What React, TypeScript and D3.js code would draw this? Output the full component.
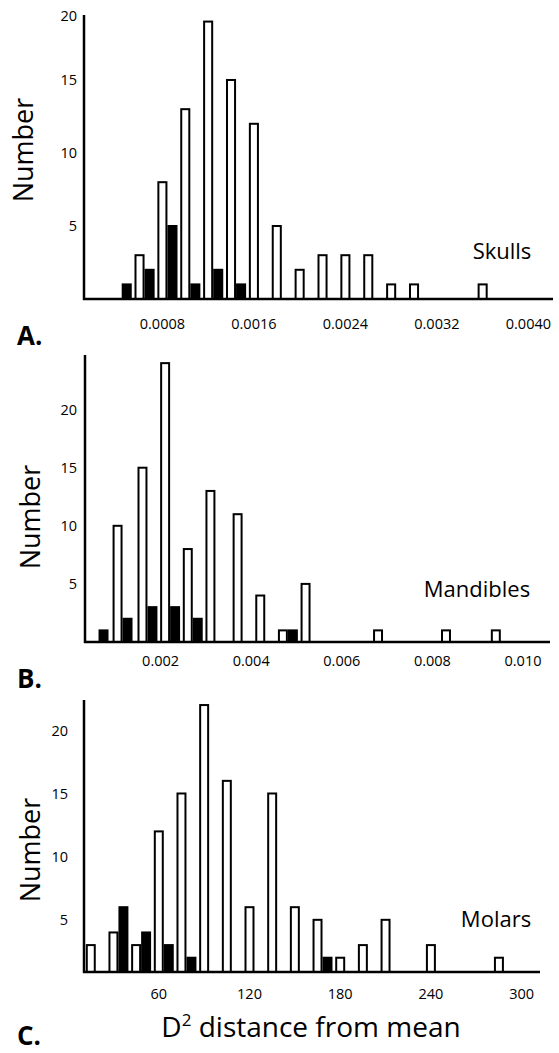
import React from "react";
import * as d3 from "d3";

// ---------- Data ----------
// Panel A: Skulls
const skullBins = [0.0004, 0.0006, 0.0008, 0.001, 0.0012, 0.0014, 0.0016, 0.0018, 0.002, 0.0022, 0.0024, 0.0026, 0.0028, 0.003, 0.0036];
const skullOpen = [0, 3, 8, 13, 19, 15, 12, 5, 2, 3, 3, 3, 1, 1, 1];
const skullFilled = [1, 2, 5, 1, 2, 1, 0, 0, 0, 0, 0, 0, 0, 0, 0];
const skullTicks = [0.0008, 0.0016, 0.0024, 0.0032, 0.004];
const skullTickLabels = ["0.0008", "0.0016", "0.0024", "0.0032", "0.0040"];

// Panel B: Mandibles
const mandBins = [0.00052, 0.00105, 0.0016, 0.0021, 0.0026, 0.0031, 0.0037, 0.0042, 0.0047, 0.0052, 0.0068, 0.0083, 0.0094];
const mandOpen = [0, 10, 15, 24, 8, 13, 11, 4, 1, 5, 1, 1, 1];
const mandFilled = [1, 2, 3, 3, 2, 0, 0, 0, 1, 0, 0, 0, 0];
const mandTicks = [0.002, 0.004, 0.006, 0.008, 0.01];
const mandTickLabels = ["0.002", "0.004", "0.006", "0.008", "0.010"];

// Panel C: Molars
const molarBins = [15, 30, 45, 60, 75, 90, 105, 120, 135, 150, 165, 180, 195, 210, 240, 285];
const molarOpen = [3, 4, 3, 12, 15, 22, 16, 6, 15, 6, 5, 2, 3, 5, 3, 2];
const molarFilled = [0, 6, 4, 3, 2, 0, 0, 0, 0, 0, 2, 0, 0, 0, 0, 0];
const molarTicks = [60, 120, 180, 240, 300];
const molarTickLabels = ["60", "120", "180", "240", "300"];

const yTickValues = [5, 10, 15, 20];
const yTickLabels = ["5", "10", "15", "20"];

const FONT = "'Open Sans', 'Noto Sans', sans-serif";

type Panel = {
  letter: string;
  name: string;
  bins: number[];
  open: number[];
  filled: number[];
  ticks: number[];
  tickLabels: string[];
  binStep: number;
  xDomain: [number, number];
  xRange: [number, number];
  yDomain: [number, number];
  top: number;
  baseline: number;
  axisX: number;
  axisEnd: number;
  xTickY: number;
  yTickRight: number;
  nameX: number;
  nameY: number;
  numberX: number;
  numberY: number;
  letterY: number;
};

const panels: Panel[] = [
  {
    letter: "A.", name: "Skulls", bins: skullBins, open: skullOpen, filled: skullFilled,
    ticks: skullTicks, tickLabels: skullTickLabels, binStep: 0.0002,
    xDomain: [0, 0.004], xRange: [70.9, 528.4], yDomain: [0, 19.45],
    top: 15, baseline: 299, axisX: 84, axisEnd: 553, xTickY: 323, yTickRight: 77,
    nameX: 502, nameY: 250, numberX: 33, numberY: 150, letterY: 345,
  },
  {
    letter: "B.", name: "Mandibles", bins: mandBins, open: mandOpen, filled: mandFilled,
    ticks: mandTicks, tickLabels: mandTickLabels, binStep: 0.0005,
    xDomain: [0, 0.01], xRange: [70, 523], yDomain: [0, 24.7],
    top: 355, baseline: 642, axisX: 85, axisEnd: 550, xTickY: 660, yTickRight: 77,
    nameX: 477, nameY: 588, numberX: 40, numberY: 517, letterY: 688,
  },
  {
    letter: "C.", name: "Molars", bins: molarBins, open: molarOpen, filled: molarFilled,
    ticks: molarTicks, tickLabels: molarTickLabels, binStep: 15,
    xDomain: [0, 300], xRange: [68.1, 521.6], yDomain: [0.87, 22.4],
    top: 700, baseline: 972, axisX: 84, axisEnd: 540, xTickY: 993, yTickRight: 68,
    nameX: 496, nameY: 918, numberX: 40, numberY: 850, letterY: 1045,
  },
];

function Histogram({ p }: { p: Panel }) {
  const x = d3.scaleLinear().domain(p.xDomain).range(p.xRange);
  const y = d3.scaleLinear().domain(p.yDomain).range([p.baseline, p.top]);
  const barW = (x(p.binStep) - x(0)) * 0.44;
  const y0 = y(p.yDomain[0]);

  return (
    <g>
      {/* open (white) bars */}
      {p.bins.map((b, i) =>
        p.open[i] > 0 ? (
          <rect
            key={"o" + i}
            x={x(b) - barW / 2 + 1}
            y={y(p.open[i])}
            width={barW - 2}
            height={y0 - y(p.open[i])}
            fill="#fff"
            stroke="#000"
            strokeWidth={2}
          />
        ) : null
      )}
      {/* filled (black) bars */}
      {p.bins.map((b, i) =>
        p.filled[i] > 0 ? (
          <rect
            key={"f" + i}
            x={x(b) + barW / 2}
            y={y(p.filled[i]) - 1}
            width={barW}
            height={y0 - y(p.filled[i]) + 1}
            fill="#000"
          />
        ) : null
      )}
      {/* axes */}
      <line x1={p.axisX} x2={p.axisX} y1={p.top} y2={p.baseline + 1} stroke="#000" strokeWidth={2.5} />
      <line x1={p.axisX - 1} x2={p.axisEnd} y1={p.baseline} y2={p.baseline} stroke="#000" strokeWidth={2.5} />
      {/* y tick labels */}
      {yTickValues.map((v, i) => (
        <text
          key={"yt" + i}
          x={p.yTickRight}
          y={Math.max(y(v), p.top)}
          textAnchor="end"
          dominantBaseline="central"
          fontFamily={FONT}
          fontSize={14.5}
          fill="#000"
        >
          {yTickLabels[i]}
        </text>
      ))}
      {/* x tick labels */}
      {p.ticks.map((v, i) => (
        <text
          key={"xt" + i}
          x={x(v)}
          y={p.xTickY}
          textAnchor="middle"
          dominantBaseline="central"
          fontFamily={FONT}
          fontSize={14.5}
          fill="#000"
        >
          {p.tickLabels[i]}
        </text>
      ))}
      {/* y title */}
      <text
        transform={`translate(${p.numberX},${p.numberY}) rotate(-90)`}
        textAnchor="middle"
        fontFamily={FONT}
        fontSize={27}
        fill="#000"
      >
        Number
      </text>
      {/* panel name */}
      <text x={p.nameX} y={p.nameY} textAnchor="middle" dominantBaseline="central" fontFamily={FONT} fontSize={22} fill="#000">
        {p.name}
      </text>
      {/* panel letter */}
      <text x={17} y={p.letterY} fontFamily={FONT} fontWeight="bold" fontSize={26} fill="#000">
        {p.letter}
      </text>
    </g>
  );
}

export default function App() {
  return (
    <div style={{ position: "absolute", left: 0, top: 0, width: 559, height: 1053, background: "#fff" }}>
      <svg width={559} height={1053} style={{ display: "block" }}>
        <rect width={559} height={1053} fill="#fff" />
        {panels.map((p) => (
          <Histogram key={p.letter} p={p} />
        ))}
        <text x={311} y={1037} textAnchor="middle" fontFamily={FONT} fontSize={28} fill="#000">
          D<tspan dy={-11} fontSize={17}>2</tspan>
          <tspan dy={11}> distance from mean</tspan>
        </text>
      </svg>
    </div>
  );
}
